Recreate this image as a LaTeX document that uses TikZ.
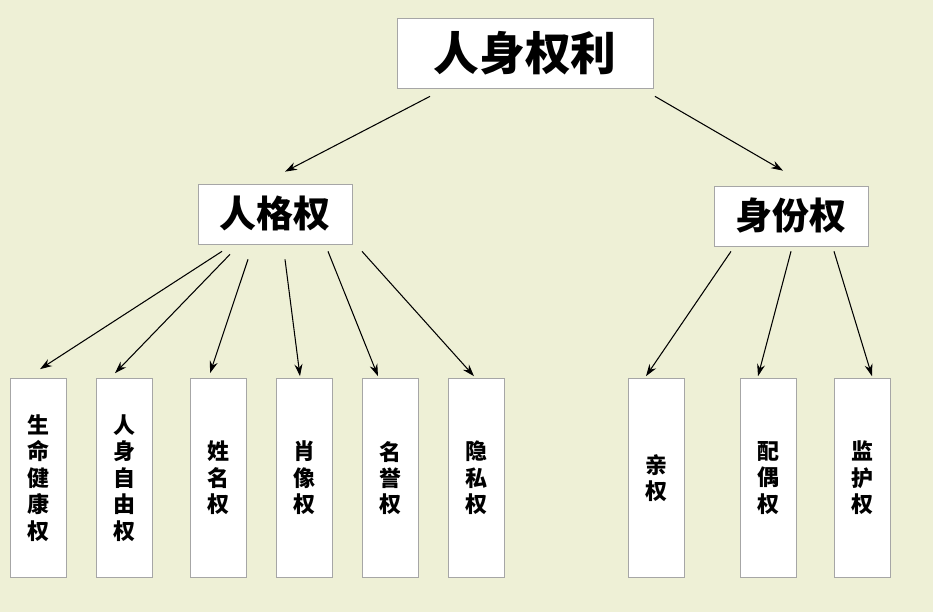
\documentclass[tikz,border=0pt]{standalone}
\usepackage{fontspec}
\newfontfamily\cjk{Noto Sans CJK SC}
\usetikzlibrary{positioning,arrows.meta}
\definecolor{bgcol}{RGB}{238,240,214}
\begin{document}
\begin{tikzpicture}[x=0.02cm,y=-0.02cm,
  top/.style={rectangle, draw=gray!70, fill=white, minimum width=5.12cm, minimum height=1.4cm, font=\cjk\bfseries\fontsize{26}{30}\selectfont},
  mid/.style={rectangle, draw=gray!70, fill=white, minimum width=3.08cm, minimum height=1.2cm, font=\cjk\bfseries\fontsize{21}{25}\selectfont},
  leaf/.style={rectangle, draw=gray!70, fill=white, minimum width=1.12cm, minimum height=3.98cm, align=center, font=\cjk\bfseries\fontsize{12.5}{15}\selectfont},
  arr/.style={-{Stealth[length=2.4mm,width=1.6mm]}, semithick}]
  \fill[bgcol] (0,0) rectangle (933,612);
  \useasboundingbox (0,0) rectangle (933,612);
  \node[top] (rs) at (525,53) {人身权利};
  \node[mid] (rg) at (275,214) {人格权};
  \node[mid] (sf) at (791,216) {身份权};
  \node[leaf] (b1) at (38,478) {生\\命\\健\\康\\权};
  \node[leaf] (b2) at (124,478) {人\\身\\自\\由\\权};
  \node[leaf] (b3) at (218,478) {姓\\名\\权};
  \node[leaf] (b4) at (304,478) {肖\\像\\权};
  \node[leaf] (b5) at (390,478) {名\\誉\\权};
  \node[leaf] (b6) at (476,478) {隐\\私\\权};
  \node[leaf] (c1) at (656,478) {亲\\权};
  \node[leaf] (c2) at (768,478) {配\\偶\\权};
  \node[leaf] (c3) at (862,478) {监\\护\\权};
  % top level
  \draw[arr] ([xshift=-1.9cm,yshift=-0.16cm]rs.south) -- ([xshift=0.2cm,yshift=0.24cm]rg.north);
  \draw[arr] ([xshift=2.6cm,yshift=-0.16cm]rs.south) -- ([xshift=-0.16cm,yshift=0.3cm]sf.north);
  % personality rights
  \draw[arr] ([xshift=-1.06cm,yshift=-0.14cm]rg.south) -- ([xshift=0.04cm,yshift=0.18cm]b1.north);
  \draw[arr] ([xshift=-0.9cm,yshift=-0.2cm]rg.south) -- ([xshift=-0.18cm,yshift=0.1cm]b2.north);
  \draw[arr] ([xshift=-0.54cm,yshift=-0.3cm]rg.south) -- ([xshift=-0.16cm,yshift=0.1cm]b3.north);
  \draw[arr] ([xshift=0.2cm,yshift=-0.3cm]rg.south) -- ([xshift=-0.08cm,yshift=0.04cm]b4.north);
  \draw[arr] ([xshift=1.06cm,yshift=-0.14cm]rg.south) -- ([xshift=-0.24cm,yshift=0.04cm]b5.north);
  \draw[arr] ([xshift=1.74cm,yshift=-0.14cm]rg.south) -- ([xshift=-0.04cm,yshift=0.04cm]b6.north);
  % status rights
  \draw[arr] ([xshift=-1.2cm,yshift=-0.1cm]sf.south) -- ([xshift=-0.2cm,yshift=0.04cm]c1.north);
  \draw[arr] ([xshift=0cm,yshift=-0.1cm]sf.south) -- ([xshift=-0.2cm,yshift=0.04cm]c2.north);
  \draw[arr] ([xshift=0.86cm,yshift=-0.1cm]sf.south) -- ([xshift=0.2cm,yshift=0.04cm]c3.north);
\end{tikzpicture}
\end{document}
